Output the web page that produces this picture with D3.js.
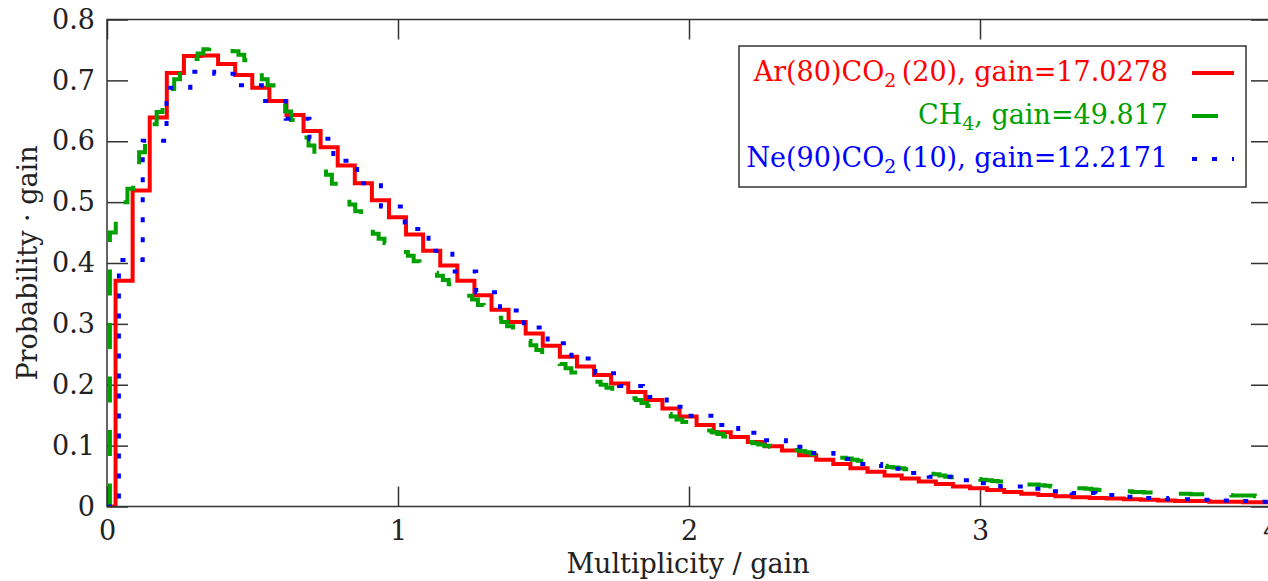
<!DOCTYPE html>
<html>
<head>
<meta charset="utf-8">
<script src="https://cdn.jsdelivr.net/npm/d3@7"></script>
<style>
  body { margin: 0; background: #fff; }
  svg { display: block; font-family: "DejaVu Serif", serif; }
</style>
</head>
<body>
<div id="chart"></div>
<script>
// gains (bin width on the x axis is 1/gain, bins centred on n/gain)
const redGain = 17.0278;
const greenGain = 49.817;
const blueGain = 12.2171;

// Ar(80)CO2(20), bins n = 1..68
const redValues = [
  0.371, 0.519, 0.639, 0.712, 0.740, 0.741, 0.727, 0.709, 0.688, 0.666,
  0.643, 0.617, 0.590, 0.560, 0.531, 0.503, 0.475, 0.447, 0.420, 0.396,
  0.371, 0.347, 0.323, 0.303, 0.284, 0.264, 0.246, 0.230, 0.216, 0.202,
  0.188, 0.175, 0.161, 0.148, 0.134, 0.122, 0.114, 0.106, 0.099, 0.092,
  0.084, 0.077, 0.070, 0.063, 0.057, 0.051, 0.046, 0.041, 0.037, 0.033,
  0.030, 0.027, 0.024, 0.021, 0.019, 0.017, 0.015, 0.014, 0.013, 0.012,
  0.011, 0.010, 0.009, 0.009, 0.008, 0.008, 0.007, 0.007
];

// CH4, bins n = 1..199
const greenValues = [
  0.450, 0.470, 0.500, 0.522, 0.555, 0.582, 0.605, 0.628, 0.648, 0.667,
  0.686, 0.702, 0.714, 0.725, 0.735, 0.744, 0.751, 0.755, 0.756, 0.755,
  0.752, 0.748, 0.742, 0.733, 0.723, 0.713, 0.702, 0.692, 0.679, 0.664,
  0.649, 0.635, 0.621, 0.606, 0.593, 0.578, 0.560, 0.545, 0.530, 0.518,
  0.505, 0.496, 0.485, 0.474, 0.458, 0.448, 0.440, 0.433, 0.427, 0.421,
  0.418, 0.412, 0.403, 0.396, 0.390, 0.384, 0.379, 0.372, 0.365, 0.359,
  0.352, 0.346, 0.340, 0.331, 0.323, 0.317, 0.310, 0.303, 0.296, 0.289,
  0.281, 0.272, 0.265, 0.257, 0.248, 0.244, 0.239, 0.234, 0.227, 0.220,
  0.214, 0.211, 0.208, 0.205, 0.200, 0.195, 0.190, 0.186, 0.182, 0.178,
  0.175, 0.170, 0.165, 0.161, 0.157, 0.152, 0.148, 0.143, 0.139, 0.135,
  0.131, 0.128, 0.125, 0.122, 0.119, 0.115, 0.112, 0.110, 0.108, 0.106,
  0.104, 0.102, 0.100, 0.098, 0.097, 0.096, 0.094, 0.093, 0.091, 0.089,
  0.086, 0.084, 0.083, 0.082, 0.081, 0.080, 0.079, 0.077, 0.075, 0.073,
  0.071, 0.069, 0.067, 0.065, 0.064, 0.063, 0.061, 0.060, 0.058, 0.056,
  0.054, 0.053, 0.051, 0.049, 0.048, 0.046, 0.046, 0.045, 0.045, 0.044,
  0.043, 0.042, 0.041, 0.040, 0.039, 0.038, 0.037, 0.036, 0.036, 0.035,
  0.034, 0.033, 0.032, 0.031, 0.031, 0.030, 0.030, 0.029, 0.028, 0.027,
  0.026, 0.026, 0.025, 0.025, 0.025, 0.024, 0.024, 0.023, 0.023, 0.022,
  0.022, 0.022, 0.021, 0.021, 0.021, 0.020, 0.020, 0.020, 0.019, 0.019,
  0.019, 0.019, 0.018, 0.018, 0.018, 0.018, 0.017, 0.017, 0.017
];

// Ne(90)CO2(10), bins n = 1..49
const blueValues = [
  0.405, 0.601, 0.688, 0.714, 0.711, 0.692, 0.666, 0.637, 0.604, 0.568,
  0.531, 0.493, 0.456, 0.420, 0.386, 0.352, 0.322, 0.294, 0.268, 0.243,
  0.219, 0.198, 0.180, 0.164, 0.149, 0.134, 0.121, 0.109, 0.098, 0.088,
  0.078, 0.070, 0.062, 0.055, 0.049, 0.043, 0.038, 0.033, 0.029, 0.025,
  0.022, 0.019, 0.016, 0.014, 0.012, 0.011, 0.010, 0.009, 0.008
];

// legend labels: [before subscript, subscript, after subscript]
const redLabel = ["Ar(80)CO", "2", "\u2009(20), gain=17.0278"];
const greenLabel = ["CH", "4", ", gain=49.817"];
const blueLabel = ["Ne(90)CO", "2", "\u2009(10), gain=12.2171"];

const xTicks = [0, 1, 2, 3, 4];
const xTickLabels = ["0", "1", "2", "3", "4"];
const yTicks = [0, 0.1, 0.2, 0.3, 0.4, 0.5, 0.6, 0.7, 0.8];
const yTickLabels = ["0", "0.1", "0.2", "0.3", "0.4", "0.5", "0.6", "0.7", "0.8"];

const xLabel = "Multiplicity / gain";
const yLabel = "Probability \u00b7 gain";

// Setup
const width = 1268;
const height = 581;
const plotLeft = 107, plotRight = 1271, plotTop = 19.5, plotBottom = 506.5;
const axisColor = "#333";
const fontSize = 27;

const svg = d3.select("#chart")
  .append("svg")
  .attr("width", width)
  .attr("height", height)
  .style("overflow", "hidden");

const x = d3.scaleLinear().domain([0, 4]).range([plotLeft, plotRight]);
const y = d3.scaleLinear().domain([0, 0.8]).range([plotBottom, plotTop]);

svg.append("clipPath").attr("id", "plot-clip")
  .append("rect")
  .attr("x", plotLeft).attr("y", plotTop)
  .attr("width", plotRight - plotLeft).attr("height", plotBottom - plotTop);

// axes, ticks pointing inwards on all four sides
function styleAxis(g) {
  g.select(".domain").remove();
  g.selectAll(".tick line").attr("stroke", axisColor).attr("stroke-width", 1.5);
  g.selectAll(".tick text")
    .attr("fill", "#222")
    .style("font-family", "DejaVu Serif, serif")
    .style("font-size", fontSize + "px");
}

svg.append("g")
  .attr("transform", `translate(0,${plotBottom})`)
  .call(d3.axisBottom(x).tickValues(xTicks)
    .tickFormat((d, i) => xTickLabels[i])
    .tickSizeInner(-20).tickSizeOuter(0).tickPadding(14))
  .call(styleAxis);

svg.append("g")
  .attr("transform", `translate(0,${plotTop})`)
  .call(d3.axisTop(x).tickValues(xTicks).tickFormat("")
    .tickSizeInner(-20).tickSizeOuter(0))
  .call(styleAxis);

svg.append("g")
  .attr("transform", `translate(${plotLeft},0)`)
  .call(d3.axisLeft(y).tickValues(yTicks)
    .tickFormat((d, i) => yTickLabels[i])
    .tickSizeInner(-21).tickSizeOuter(0).tickPadding(12))
  .call(styleAxis);

svg.append("g")
  .attr("transform", `translate(${plotRight},0)`)
  .call(d3.axisRight(y).tickValues(yTicks).tickFormat("")
    .tickSizeInner(-20).tickSizeOuter(0))
  .call(styleAxis);

// step histograms
function stepPoints(values, gain) {
  const pts = [[0, 0]];
  values.forEach((v, i) => pts.push([(i + 0.5) / gain, v]));
  pts.push([(values.length + 0.5) / gain, values[values.length - 1]]);
  return pts;
}

const line = d3.line()
  .x(d => x(d[0]))
  .y(d => y(d[1]))
  .curve(d3.curveStepAfter);

const series = [
  { values: redValues, gain: redGain, label: redLabel, color: "#ff0000", dash: null, sampleLen: 42 },
  { values: greenValues, gain: greenGain, label: greenLabel, color: "#00a000", dash: "26,27.5", sampleLen: 26 },
  { values: blueValues, gain: blueGain, label: blueLabel, color: "#0000ff", dash: "5,15", sampleLen: 42 }
];

const curves = svg.append("g").attr("clip-path", "url(#plot-clip)");
series.forEach(s => {
  curves.append("path")
    .datum(stepPoints(s.values, s.gain))
    .attr("d", line)
    .attr("fill", "none")
    .attr("stroke", s.color)
    .attr("stroke-width", 4)
    .attr("stroke-dasharray", s.dash);
});

// frame
svg.append("rect")
  .attr("x", plotLeft).attr("y", plotTop)
  .attr("width", plotRight - plotLeft).attr("height", plotBottom - plotTop)
  .attr("fill", "none")
  .attr("stroke", axisColor)
  .attr("stroke-width", 1.5);

// axis titles
svg.append("text")
  .attr("x", (x(0) + x(4)) / 2 - 1)
  .attr("y", 573)
  .attr("text-anchor", "middle")
  .attr("fill", "#222")
  .style("font-size", fontSize + "px")
  .text(xLabel);

svg.append("text")
  .attr("transform", `translate(37,${(plotTop + plotBottom) / 2}) rotate(-90)`)
  .attr("text-anchor", "middle")
  .attr("fill", "#222")
  .style("font-size", fontSize + "px")
  .text(yLabel);

// legend
const legend = svg.append("g");
legend.append("rect")
  .attr("x", 739).attr("y", 46)
  .attr("width", 507).attr("height", 141)
  .attr("fill", "#fff")
  .attr("stroke", axisColor)
  .attr("stroke-width", 1.5);

series.forEach((s, i) => {
  const base = 81 + i * 43;
  const t = legend.append("text")
    .attr("x", 1168)
    .attr("y", base)
    .attr("text-anchor", "end")
    .attr("fill", s.color)
    .style("font-size", fontSize + "px");
  t.append("tspan").text(s.label[0]);
  t.append("tspan").attr("dy", 6).style("font-size", (fontSize * 0.7) + "px").text(s.label[1]);
  t.append("tspan").attr("dy", -6).text(s.label[2]);

  legend.append("line")
    .attr("x1", 1192).attr("x2", 1192 + s.sampleLen)
    .attr("y1", base - 8).attr("y2", base - 8)
    .attr("stroke", s.color)
    .attr("stroke-width", 4)
    .attr("stroke-dasharray", s.dash);
});
</script>
</body>
</html>
